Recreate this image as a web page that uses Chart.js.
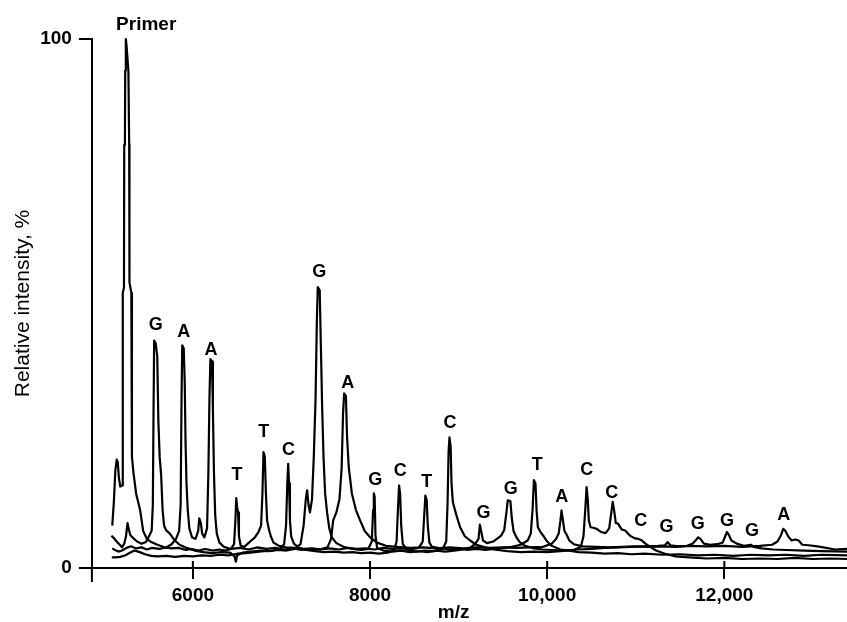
<!DOCTYPE html>
<html><head><meta charset="utf-8">
<script src="https://cdn.jsdelivr.net/npm/chart.js@4"></script>
<style>html,body{margin:0;padding:0;background:#fff}canvas{display:block}</style>
</head><body>
<canvas id="c" width="847" height="622"></canvas>
<script>
// ---- axis ticks ----
const xTickValues = [6000, 8000, 10000, 12000];
const xTickLabels = ['6000', '8000', '10,000', '12,000'];
const yTickValues = [0, 100];
const yTickLabels = ['0', '100'];

// ---- spectra: [m/z, relative intensity %] ----
const traceT = [[5090,8.0],[5108,12.5],[5125,18.5],[5140,20.5],[5152,20.0],[5165,17.0],[5180,15.4],[5200,15.6],[5207,16.0],[5210,52],[5222,53],[5225,80],[5233,81],[5236,94],[5243,100],[5250,99],[5272,94],[5281,80],[5284,54],[5305,52],[5312,21],[5330,17.9],[5360,14],[5405,10.9],[5439,7.0],[5480,5.5],[5530,4.9],[5600,4.4],[5680,3.9],[5760,3.7],[5840,3.8],[5920,3.4],[5990,3.6],[6060,3.3],[6140,3.6],[6220,3.3],[6300,3.5],[6370,3.3],[6430,3.6],[6465,4.5],[6480,9],[6490,13.2],[6500,11.5],[6510,10.5],[6520,6],[6540,4.2],[6580,4.0],[6620,4.6],[6660,5.2],[6700,5.8],[6740,6.8],[6770,8],[6785,14],[6797,21.9],[6812,21],[6825,14],[6838,9],[6860,7.2],[6880,6.0],[6910,4.8],[6970,4.2],[7050,3.9],[7150,3.8],[7250,3.6],[7350,3.7],[7450,3.5],[7550,3.7],[7650,3.5],[7750,3.8],[7850,3.6],[7950,3.7],[8050,3.5],[8150,3.8],[8250,3.6],[8350,3.7],[8450,3.5],[8550,3.8],[8595,5],[8612,10],[8625,13.7],[8640,12.8],[8652,8],[8670,4.8],[8700,4.0],[8800,3.7],[8900,3.5],[9000,3.7],[9100,3.4],[9200,3.6],[9300,3.4],[9400,3.6],[9500,3.8],[9600,4.0],[9700,4.4],[9780,5.2],[9815,6.5],[9835,11],[9850,16.6],[9868,16.0],[9880,11],[9895,7.7],[9925,6.8],[9960,6.0],[10000,5.0],[10050,4.2],[10150,3.5],[10250,3.3],[10350,3.0],[10500,2.9],[10650,2.7],[10800,2.8],[10950,2.6],[11100,2.7],[11300,2.5],[11500,2.6],[11700,2.4],[11900,2.5],[12100,2.3],[12300,2.5],[12500,2.4],[12700,2.5],[12900,2.3],[13100,2.5],[13385,2.4]];

const traceG = [[5080,6.1],[5100,5.8],[5125,5.3],[5150,4.8],[5175,4.4],[5200,3.9],[5225,4.6],[5245,6.0],[5262,8.5],[5278,7.2],[5295,6.2],[5330,5.6],[5370,5.0],[5420,4.6],[5470,4.9],[5510,6.2],[5535,7.1],[5548,12],[5556,30],[5563,43.0],[5580,42.5],[5598,40],[5610,28],[5625,21],[5642,17.5],[5658,11],[5675,8],[5700,7.1],[5740,6.5],[5790,5.3],[5850,4.4],[5930,3.8],[6020,3.3],[6120,3.0],[6220,2.8],[6320,3.0],[6420,2.9],[6470,2.2],[6485,1.2],[6500,2.4],[6560,2.9],[6660,3.1],[6760,3.3],[6860,3.2],[6960,3.4],[7060,3.3],[7150,3.6],[7215,4.5],[7250,8],[7275,13],[7290,14.7],[7305,12],[7322,10.5],[7345,13],[7365,21],[7385,32],[7400,47],[7410,53.1],[7432,52.5],[7445,42],[7460,30],[7475,21],[7493,14.1],[7515,10.5],[7540,7.5],[7569,5.8],[7620,4.7],[7700,4.0],[7800,3.6],[7900,3.4],[7980,3.6],[8020,5],[8035,11],[8043,14.1],[8052,13.5],[8062,6],[8080,3.8],[8150,3.3],[8250,3.1],[8350,3.3],[8450,3.0],[8550,3.2],[8650,3.0],[8750,3.3],[8850,3.1],[8950,3.3],[9050,3.5],[9130,3.8],[9190,4.6],[9225,5.5],[9240,8.2],[9255,7.0],[9275,5.2],[9320,4.7],[9390,5.0],[9440,5.6],[9480,6.1],[9515,7.2],[9540,10.5],[9555,12.8],[9585,12.6],[9600,9.5],[9620,7.0],[9650,5.9],[9690,4.9],[9750,4.2],[9850,3.7],[9950,3.5],[10050,3.4],[10200,3.3],[10350,3.5],[10500,3.6],[10650,3.8],[10800,3.9],[10950,4.0],[11100,4.1],[11250,4.2],[11330,4.3],[11361,4.9],[11390,4.3],[11480,4.1],[11580,4.2],[11640,4.6],[11680,5.3],[11705,5.8],[11730,5.5],[11770,4.6],[11840,4.4],[11920,4.5],[11980,4.8],[12010,6.0],[12030,6.8],[12050,6.3],[12080,5.2],[12140,4.6],[12220,4.2],[12300,4.4],[12330,4.0],[12420,3.7],[12550,3.5],[12700,3.4],[12900,3.3],[13100,3.2],[13385,3.1]];

const traceA = [[5090,3.7],[5120,3.4],[5160,3.1],[5200,3.3],[5250,3.8],[5300,4.1],[5360,3.7],[5420,3.9],[5480,3.5],[5540,3.8],[5620,3.6],[5700,3.9],[5760,4.5],[5810,5.5],[5845,7],[5862,12],[5872,32],[5880,42.1],[5897,41.5],[5908,35],[5917,24],[5928,16],[5942,11],[5960,7.5],[5990,5.8],[6030,5.5],[6060,7],[6072,9.4],[6090,8.5],[6105,6.5],[6130,5.8],[6160,7.5],[6175,18],[6187,32],[6198,39.5],[6216,39],[6226,30],[6238,18],[6252,10],[6270,6.5],[6300,4.8],[6350,4.0],[6430,3.6],[6530,3.8],[6630,3.5],[6730,3.9],[6830,3.6],[6930,3.8],[7030,3.5],[7130,3.7],[7230,3.4],[7330,3.6],[7430,3.5],[7520,3.9],[7560,5.5],[7584,9.0],[7620,10.5],[7655,13],[7680,19],[7695,29],[7708,33.0],[7728,32.5],[7740,25],[7760,19],[7795,14.1],[7840,11],[7888,9.0],[7940,7.0],[8001,5.8],[8080,4.8],[8180,4.2],[8300,4.0],[8450,3.8],[8600,3.9],[8750,3.7],[8900,3.9],[9050,3.7],[9200,3.9],[9350,3.8],[9500,3.9],[9650,3.8],[9800,3.9],[9950,4.0],[10050,4.6],[10100,5.5],[10130,6.5],[10150,9],[10162,10.9],[10178,9],[10195,7],[10220,6.3],[10250,5.2],[10300,4.5],[10400,4.1],[10550,4.0],[10700,3.9],[10850,4.0],[11000,4.1],[11150,4.0],[11300,4.1],[11450,4.0],[11600,4.2],[11800,4.1],[12000,4.2],[12200,4.0],[12400,4.2],[12540,4.4],[12600,5.0],[12640,6.2],[12665,7.4],[12690,7.0],[12720,6.0],[12760,5.2],[12800,5.4],[12840,5.2],[12880,4.4],[12950,4.3],[13050,4.1],[13150,3.8],[13250,3.5],[13385,3.6]];

const traceC = [[5085,2.0],[5130,2.0],[5180,2.1],[5240,2.4],[5290,2.9],[5340,3.3],[5400,3.0],[5460,2.6],[5530,2.3],[5600,2.2],[5700,2.3],[5800,2.1],[5900,2.3],[6000,2.2],[6100,2.4],[6200,2.3],[6300,2.5],[6400,2.4],[6500,2.7],[6600,2.8],[6700,3.0],[6800,3.2],[6900,3.3],[6980,3.6],[7030,4.5],[7052,8],[7066,16],[7076,19.7],[7086,16],[7096,9],[7110,6],[7140,4.6],[7200,3.8],[7280,3.4],[7380,3.2],[7480,3.0],[7600,3.1],[7700,2.9],[7800,3.0],[7900,2.8],[8000,2.9],[8100,2.7],[8200,2.9],[8270,3.3],[8300,5],[8315,11],[8328,15.6],[8340,14],[8352,8],[8370,4.5],[8420,3.4],[8520,3.1],[8620,3.3],[8720,3.2],[8820,3.6],[8860,5],[8875,12],[8887,22],[8897,24.7],[8910,23],[8920,16],[8935,12.5],[8950,11.5],[8975,10],[9017,7.7],[9070,6.0],[9130,5.2],[9200,4.4],[9300,3.9],[9400,3.5],[9550,3.2],[9700,3.0],[9850,3.1],[10000,3.0],[10150,3.2],[10300,3.4],[10380,4.0],[10410,6],[10430,11],[10445,15.3],[10458,13],[10470,9],[10490,7.7],[10520,7.6],[10560,7.4],[10610,6.8],[10660,6.6],[10700,7.5],[10720,10],[10740,12.5],[10755,11],[10775,8.5],[10800,8.4],[10840,7.3],[10880,7.1],[10936,6.1],[10990,5.6],[11030,5.5],[11060,5.3],[11110,4.6],[11162,4.0],[11230,3.3],[11330,2.7],[11450,2.2],[11600,2.0],[11800,1.8],[12000,1.9],[12200,1.7],[12400,1.8],[12600,1.7],[12800,1.9],[13000,1.7],[13200,1.8],[13385,1.7]];

// ---- labelled peaks ----
const peakMz   = [5582, 5898, 6206, 6497, 6801, 7079, 7426, 7749, 8058, 8340, 8641, 8904, 9280, 9589, 9889, 10165, 10447, 10729, 11057, 11346, 11700, 12031, 12313, 12671];
const peakInt  = [43.2, 42.0, 38.5, 14.9, 23.0, 19.6, 53.3, 32.3, 13.9, 15.7, 13.6, 24.7, 7.7, 12.3, 16.9, 10.7, 15.8, 11.5, 6.3, 5.1, 5.7, 6.3, 4.4, 7.3];
const peakBase = ['G','A','A','T','T','C','G','A','G','C','T','C','G','G','T','A','C','C','C','G','G','G','G','A'];
const primerMz = 5247, primerInt = 100, primerLabel = 'Primer';

const FAMILY = '"Liberation Sans", Arial, Helvetica, sans-serif';
const toXY = arr => arr.map(p => ({x: p[0], y: p[1]}));

const annotate = {
  id: 'annotate',
  afterDatasetsDraw(chart) {
    const {ctx, chartArea, scales: {x, y}} = chart;
    ctx.save();
    ctx.fillStyle = '#000';
    ctx.textAlign = 'center';
    ctx.textBaseline = 'middle';
    ctx.font = 'bold 18px ' + FAMILY;
    peakBase.forEach((t, i) => {
      ctx.fillText(t, x.getPixelForValue(peakMz[i]), y.getPixelForValue(peakInt[i]) - 14);
    });
    ctx.font = 'bold 19px ' + FAMILY;
    ctx.fillText(primerLabel, x.getPixelForValue(primerMz) + 20, y.getPixelForValue(primerInt) - 14);
    ctx.strokeStyle = '#000';
    ctx.lineWidth = 2;
    ctx.beginPath();
    ctx.moveTo(chartArea.left, chartArea.bottom);
    ctx.lineTo(chartArea.left, chartArea.bottom + 14);
    xTickValues.forEach(v => {
      const px = x.getPixelForValue(v);
      ctx.moveTo(px, chartArea.bottom);
      ctx.lineTo(px, chartArea.bottom - 7);
    });
    ctx.stroke();
    ctx.restore();
  }
};

const ds = (label, arr) => ({
  label, data: toXY(arr), borderColor: '#000', borderWidth: 2.2, pointRadius: 0,
  tension: 0, fill: false, borderJoinStyle: 'round', clip: 6
});

new Chart(document.getElementById('c'), {
  type: 'line',
  data: { datasets: [ds('T', traceT), ds('G', traceG), ds('A', traceA), ds('C', traceC)] },
  options: {
    responsive: false, animation: false, devicePixelRatio: 1,
    layout: { padding: { left: 7, right: 0, top: 39, bottom: 0 } },
    plugins: { legend: { display: false }, tooltip: { enabled: false } },
    scales: {
      x: {
        type: 'linear', min: 4860, max: 13385,
        afterBuildTicks: a => { a.ticks = xTickValues.map(v => ({ value: v })); },
        ticks: { callback: (v, i) => xTickLabels[i], color: '#000', autoSkip: false, maxRotation: 0,
                 font: { family: FAMILY, size: 19, weight: 'bold', lineHeight: 1 }, padding: 7 },
        grid: { display: true, drawOnChartArea: false, drawTicks: true, tickLength: 11, color: '#000', lineWidth: 2 },
        border: { display: true, color: '#000', width: 2 },
        title: { display: true, text: 'm/z      ', color: '#000',
                 font: { family: FAMILY, size: 19, weight: 'bold', lineHeight: 1 }, padding: { top: -9, bottom: 0 } }
      },
      y: {
        min: 0, max: 100,
        afterBuildTicks: a => { a.ticks = yTickValues.map(v => ({ value: v })); },
        ticks: { callback: (v, i) => yTickLabels[i], color: '#000',
                 font: { family: FAMILY, size: 19, weight: 'bold', lineHeight: 1.2 }, padding: 7 },
        grid: { display: true, drawOnChartArea: false, drawTicks: true, tickLength: 13, color: '#000', lineWidth: 2 },
        border: { display: true, color: '#000', width: 2 },
        title: { display: true, text: 'Relative intensity, %', color: '#000',
                 font: { family: FAMILY, size: 21, weight: 'normal', lineHeight: 1.2 }, padding: { top: 4, bottom: -3 } }
      }
    }
  },
  plugins: [annotate]
});
</script>
</body></html>
